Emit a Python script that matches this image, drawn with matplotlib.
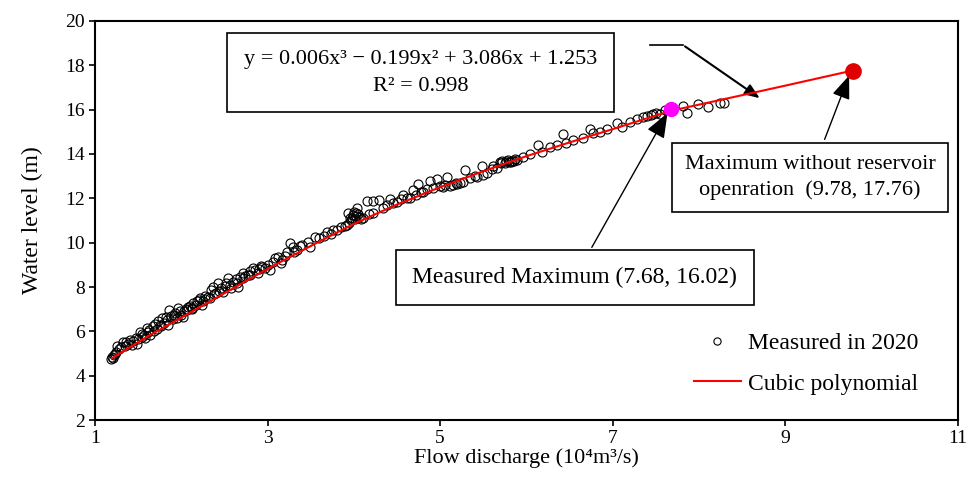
import matplotlib
matplotlib.use("Agg")
from matplotlib import pyplot as plt

plt.rcParams["font.family"] = ["Liberation Serif", "DejaVu Serif"]

# measured points (flow discharge 10^4 m3/s, water level m)
meas_x = [
    1.19, 1.20, 1.21, 1.22, 1.24, 1.25, 1.28, 1.32, 1.35, 1.38, 1.41, 1.44, 1.47, 1.49,
    1.52, 1.55, 1.57, 1.60, 1.62, 1.64, 1.67, 1.70, 1.72, 1.75, 1.78, 1.80, 1.83, 1.86,
    1.88, 1.90, 1.93, 1.96, 1.98, 2.00, 2.02, 2.05, 2.07, 2.10, 2.12, 2.14, 2.17, 2.20,
    2.22, 2.25, 2.28, 2.31, 2.34, 2.37, 2.40, 2.43, 2.46, 2.48,
    1.23, 1.30, 1.36, 1.43, 1.50, 1.54, 1.58, 1.63, 1.68, 1.73, 1.77, 1.82, 1.85, 1.91,
    1.95, 2.03, 2.08, 2.13, 2.18, 2.24, 2.27, 2.33, 2.38, 2.44, 2.52, 2.58, 2.65, 2.72,
    2.80, 2.90,
    2.51, 2.54, 2.57, 2.60, 2.63, 2.66, 2.68, 2.71, 2.74, 2.77, 2.80, 2.83, 2.86, 2.89,
    2.92, 2.94, 2.97, 3.00, 3.03, 3.06, 3.09, 3.12, 3.15, 3.17, 3.20, 3.22, 3.26, 3.29,
    3.31, 3.34, 3.37, 3.40,
    3.47, 3.49, 3.55, 3.60, 3.65, 3.69, 3.73, 3.76, 3.80, 3.85, 3.90, 3.92, 3.93, 3.95,
    3.97, 3.99, 4.00, 4.02, 4.04, 4.05, 4.08, 3.94, 3.98, 4.01, 4.03, 4.06,
    4.11, 4.15, 4.18, 4.22, 4.22, 4.29, 4.34, 4.38, 4.42, 4.45, 4.50, 4.55, 4.57, 4.62,
    4.65, 4.68, 4.72, 4.74, 4.78, 4.80, 4.85, 4.88, 4.92, 4.96, 5.00, 5.03, 5.08, 5.11,
    5.15, 5.20, 5.23, 5.27, 5.29, 5.35, 5.40, 5.43, 5.48, 5.50, 5.54, 5.60, 5.61, 5.66,
    5.05, 5.18,
    5.69, 5.72, 5.75, 5.78, 5.80, 5.83, 5.86, 5.89, 5.96, 6.04, 6.13, 6.18, 6.27, 6.35,
    6.42, 6.46, 6.54, 6.65, 6.74, 6.77, 6.85, 6.93, 7.05, 7.11, 7.20, 7.28, 7.35, 7.40,
    7.44, 7.47, 7.50, 7.55, 5.71, 5.76, 5.82, 5.87,
    7.60, 7.81, 7.86, 7.99, 8.10, 8.24, 8.29,
]
meas_y = [
    4.75, 4.85, 4.80, 4.95, 5.05, 5.35, 5.20, 5.50, 5.35, 5.45, 5.60, 5.55, 5.70, 5.45,
    5.95, 5.75, 5.85, 6.15, 5.95, 5.85, 6.25, 6.35, 6.10, 6.30, 6.60, 6.40, 6.50, 6.95,
    6.70, 6.55, 6.85, 7.05, 6.90, 6.75, 6.65, 7.00, 6.95, 7.15, 7.05, 7.30, 7.20, 7.40,
    7.50, 7.35, 7.60, 7.55, 7.85, 8.00, 7.75, 8.18, 7.95, 7.78,
    5.00, 5.30, 5.50, 5.40, 5.65, 5.90, 5.70, 6.05, 6.00, 6.45, 6.25, 6.65, 6.30, 6.75,
    6.60, 6.90, 7.10, 7.00, 7.35, 7.20, 7.45, 7.50, 7.70, 7.80, 8.20, 7.95, 8.20, 8.40,
    8.55, 8.80,
    8.05, 8.41, 8.10, 8.23, 8.35, 8.00, 8.45, 8.63, 8.50, 8.54, 8.70, 8.86, 8.75, 8.63,
    8.95, 8.90, 8.85, 9.00, 8.77, 9.15, 9.31, 9.36, 9.10, 9.22, 9.40, 9.58, 9.99, 9.80,
    9.60, 9.67, 9.85, 9.90,
    10.03, 9.80, 10.26, 10.20, 10.30, 10.48, 10.40, 10.57, 10.57, 10.70, 10.75, 10.80, 11.34, 11.10,
    11.00, 11.25, 11.40, 11.20, 11.56, 11.30, 11.05, 10.90, 11.10, 11.05, 11.35, 11.15,
    11.11, 11.90, 11.30, 11.34, 11.90, 11.92, 11.56, 11.70, 11.97, 11.80, 11.84, 11.95, 12.15, 12.00,
    12.02, 12.38, 12.15, 12.65, 12.30, 12.29, 12.40, 12.78, 12.47, 12.87, 12.55, 12.51, 12.96, 12.56,
    12.60, 12.65, 12.69, 12.75, 13.28, 12.92, 13.00, 12.96, 13.46, 13.05, 13.14, 13.30, 13.46, 13.37,
    12.60, 12.70,
    13.64, 13.70, 13.60, 13.72, 13.65, 13.70, 13.68, 13.73, 13.87, 14.00, 14.41, 14.09, 14.32, 14.41,
    14.90, 14.50, 14.63, 14.72, 15.13, 14.95, 15.00, 15.13, 15.40, 15.22, 15.44, 15.58, 15.67, 15.72,
    15.75, 15.81, 15.85, 15.80, 13.60, 13.68, 13.62, 13.75,
    15.99, 16.17, 15.85, 16.26, 16.12, 16.30, 16.30,
]

# cubic polynomial curve as drawn
fit_x = [1.20, 1.60, 2.00, 2.50, 3.00, 3.50, 4.00, 4.50, 5.00, 5.50, 6.00, 6.50, 7.00, 7.68, 8.50, 9.00, 9.78]
fit_y = [4.80, 5.75, 6.62, 7.72, 8.82, 9.85, 10.85, 11.72, 12.50, 13.22, 13.90, 14.52, 15.12, 15.95, 16.65, 17.08, 17.76]

meas_max = (7.68, 16.02)
model_max = (9.78, 17.76)

fig = plt.figure(figsize=(9.73, 4.96), dpi=100)
ax = fig.add_axes([0.0976, 0.153, 0.887, 0.805])

ax.plot(meas_x, meas_y, "o", ms=6.5, mfc="none", mec="black", mew=0.8,
        label="Measured in 2020", zorder=3)
ax.plot(fit_x, fit_y, "-", color="#ff0000", lw=1.5, label="Cubic polynomial", zorder=4)
ax.plot(*meas_max, "o", ms=10, color="#ff00ff", zorder=5)
ax.plot(*model_max, "o", ms=11, color="#e00000", zorder=5)

ax.set_xlim(1, 11)
ax.set_ylim(2, 20)
ax.set_xticks([1, 3, 5, 7, 9, 11])
ax.set_yticks(range(2, 21, 2))
ax.tick_params(direction="out", length=4, width=1.2, labelsize=14, pad=3)
for s in ax.spines.values():
    s.set_linewidth(1.5)

ax.set_xlabel("Flow discharge (10\u2074m\u00b3/s)", fontsize=16, labelpad=1)
ax.set_ylabel("Water level (m)", fontsize=17, labelpad=16)

arrow = dict(arrowstyle="-|>,head_length=0.9,head_width=0.35", color="black", lw=1)

# equation box
ax.text(4.77, 17.65, "y = 0.006x\u00b3 \u2212 0.199x\u00b2 + 3.086x + 1.253\nR\u00b2 = 0.998",
        ha="center", va="center", fontsize=16, linespacing=1.55,
        bbox=dict(boxstyle="square,pad=0.75", fc="white", ec="black", lw=1.2))
ax.plot([7.43, 7.81], [18.92, 18.92], color="black", lw=1.2)
ax.annotate("", xy=(8.73, 16.44), xytext=(7.81, 18.92),
            arrowprops=dict(arrowstyle="-|>,head_length=0.9,head_width=0.35",
                            color="black", lw=1.5))

# measured maximum
ax.annotate("Measured Maximum (7.68, 16.02)", xy=(7.65, 15.95), xytext=(6.56, 8.43),
            ha="center", va="center", fontsize=17,
            bbox=dict(boxstyle="square,pad=0.7", fc="white", ec="black", lw=1.2),
            arrowprops=arrow)

# maximum without reservoir operation
ax.annotate("Maximum without reservoir\nopenration  (9.78, 17.76)", xy=(9.75, 17.65),
            xytext=(9.285, 12.94), ha="center", va="center", fontsize=16, linespacing=1.45,
            bbox=dict(boxstyle="square,pad=0.55", fc="white", ec="black", lw=1.2),
            arrowprops=arrow)

ax.legend(loc="lower right", bbox_to_anchor=(0.965, 0.04), borderaxespad=0,
          frameon=False, fontsize=17, handlelength=2.0, handletextpad=0.3,
          labelspacing=0.8, markerscale=0.8)

fig.savefig("out.png", dpi=100)
